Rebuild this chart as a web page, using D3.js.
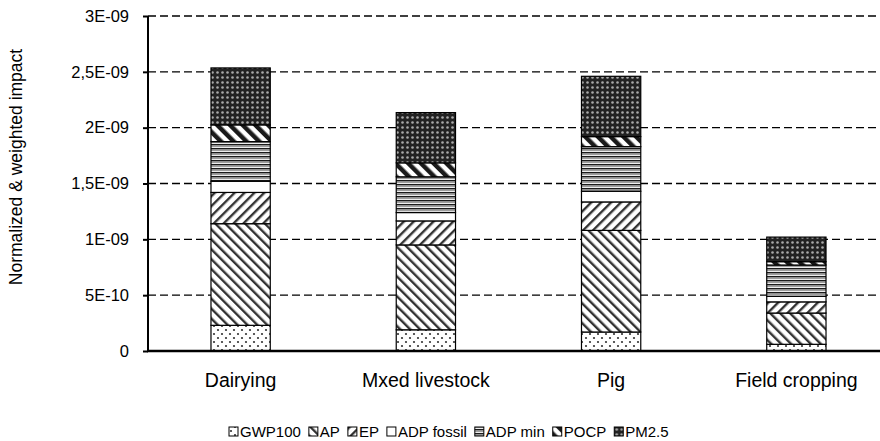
<!DOCTYPE html>
<html>
<head>
<meta charset="utf-8">
<script src="https://cdn.jsdelivr.net/npm/d3@7"></script>
<style>
  html, body { margin: 0; padding: 0; background: #fff; }
  svg { display: block; font-family: "Liberation Sans", Arial, sans-serif; }
</style>
</head>
<body>
<svg id="chart" width="880" height="441"></svg>
<script>
// ---- data ----
const categories = ["Dairying", "Mxed livestock", "Pig", "Field cropping"];
const seriesNames = ["GWP100", "AP", "EP", "ADP fossil", "ADP min", "POCP", "PM2.5"];
const GWP100    = [0.23e-9, 0.19e-9, 0.17e-9, 0.06e-9];
const AP        = [0.91e-9, 0.76e-9, 0.91e-9, 0.28e-9];
const EP        = [0.28e-9, 0.215e-9, 0.255e-9, 0.10e-9];
const ADPfossil = [0.10e-9, 0.075e-9, 0.095e-9, 0.05e-9];
const ADPmin    = [0.355e-9, 0.32e-9, 0.40e-9, 0.28e-9];
const POCP      = [0.15e-9, 0.125e-9, 0.09e-9, 0.03e-9];
const PM25      = [0.51e-9, 0.45e-9, 0.54e-9, 0.22e-9];
const tickValues = [0, 0.5e-9, 1e-9, 1.5e-9, 2e-9, 2.5e-9, 3e-9];
const tickLabels = ["0", "5E-10", "1E-09", "1,5E-09", "2E-09", "2,5E-09", "3E-09"];
const yTitle = "Normalized & weighted impact";

const seriesValues = [GWP100, AP, EP, ADPfossil, ADPmin, POCP, PM25];
const table = categories.map((c, i) => {
  const row = { category: c };
  seriesNames.forEach((s, j) => row[s] = seriesValues[j][i]);
  return row;
});

// ---- layout ----
const svg = d3.select("#chart");
const plot = { left: 148, right: 889, top: 16, bottom: 351 };

const x = d3.scaleBand().domain(categories).range([plot.left, plot.right]).paddingInner(0.68).paddingOuter(0.34);
const y = d3.scaleLinear().domain([0, 3e-9]).range([plot.bottom, plot.top]);

// ---- patterns ----
const defs = svg.append("defs");
const patIds = ["pGWP", "pAP", "pEP", "pFossil", "pMin", "pPOCP", "pPM"];

// GWP100: sparse staggered dots
let p = defs.append("pattern").attr("id", "pGWP").attr("patternUnits", "userSpaceOnUse").attr("width", 8).attr("height", 8);
p.append("rect").attr("width", 8).attr("height", 8).attr("fill", "#fff");
p.append("circle").attr("cx", 2).attr("cy", 2).attr("r", 1.1).attr("fill", "#333");
p.append("circle").attr("cx", 6).attr("cy", 6).attr("r", 1.1).attr("fill", "#333");

// AP: "\" diagonal lines
p = defs.append("pattern").attr("id", "pAP").attr("patternUnits", "userSpaceOnUse").attr("width", 7).attr("height", 7)
  .attr("patternTransform", "rotate(-45)");
p.append("rect").attr("width", 7).attr("height", 7).attr("fill", "#fff");
p.append("rect").attr("x", 0).attr("width", 2.4).attr("height", 7).attr("fill", "#333");

// EP: "/" diagonal lines
p = defs.append("pattern").attr("id", "pEP").attr("patternUnits", "userSpaceOnUse").attr("width", 7).attr("height", 7)
  .attr("patternTransform", "rotate(45)");
p.append("rect").attr("width", 7).attr("height", 7).attr("fill", "#fff");
p.append("rect").attr("x", 0).attr("width", 2.4).attr("height", 7).attr("fill", "#333");

// ADP fossil: white
p = defs.append("pattern").attr("id", "pFossil").attr("patternUnits", "userSpaceOnUse").attr("width", 4).attr("height", 4);
p.append("rect").attr("width", 4).attr("height", 4).attr("fill", "#fff");

// ADP min: horizontal stripes
p = defs.append("pattern").attr("id", "pMin").attr("patternUnits", "userSpaceOnUse").attr("width", 4).attr("height", 4);
p.append("rect").attr("width", 4).attr("height", 4).attr("fill", "#eee");
p.append("rect").attr("y", 0).attr("width", 4).attr("height", 1.4).attr("fill", "#1a1a1a");
p.append("rect").attr("y", 1.4).attr("width", 4).attr("height", 1.4).attr("fill", "#8a8a8a");

// POCP: thick wide "\" diagonals
p = defs.append("pattern").attr("id", "pPOCP").attr("patternUnits", "userSpaceOnUse").attr("width", 9).attr("height", 9)
  .attr("patternTransform", "rotate(-45)");
p.append("rect").attr("width", 9).attr("height", 9).attr("fill", "#fff");
p.append("rect").attr("x", 0).attr("width", 4.5).attr("height", 9).attr("fill", "#1a1a1a");

// PM2.5: dark with light dots
p = defs.append("pattern").attr("id", "pPM").attr("patternUnits", "userSpaceOnUse").attr("width", 5).attr("height", 5);
p.append("rect").attr("width", 5).attr("height", 5).attr("fill", "#222");
p.append("circle").attr("cx", 2.5).attr("cy", 2.5).attr("r", 1.3).attr("fill", "#aaa");

// ---- gridlines ----
svg.append("g")
  .selectAll("line")
  .data(tickValues.filter(v => v > 0))
  .join("line")
  .attr("x1", plot.left).attr("x2", plot.right)
  .attr("y1", d => y(d)).attr("y2", d => y(d))
  .attr("stroke", "#000").attr("stroke-width", 1.3)
  .attr("stroke-dasharray", "8,4");

// ---- bars ----
const stacked = d3.stack().keys(seriesNames)(table);
const layers = svg.append("g").selectAll("g")
  .data(stacked)
  .join("g")
  .attr("fill", (d, i) => `url(#${patIds[i]})`);
layers.selectAll("rect")
  .data(d => d)
  .join("rect")
  .attr("x", d => x(d.data.category))
  .attr("width", x.bandwidth())
  .attr("y", d => y(d[1]))
  .attr("height", d => y(d[0]) - y(d[1]))
  .attr("stroke", "#000")
  .attr("stroke-width", 1.2);

// ---- axes ----
const yAxis = svg.append("g")
  .attr("transform", `translate(${plot.left},0)`)
  .call(d3.axisLeft(y).tickValues(tickValues).tickFormat((d, i) => tickLabels[i]).tickSize(5).tickPadding(14));
yAxis.select(".domain").attr("stroke", "#000").attr("stroke-width", 2).attr("d", `M0,${plot.top}V${plot.bottom}`);
yAxis.selectAll(".tick line").attr("stroke", "#000").attr("stroke-width", 2);
yAxis.selectAll(".tick text").attr("font-size", 16.5).attr("fill", "#000").attr("font-family", "Liberation Sans, Arial, sans-serif");

const xAxis = svg.append("g")
  .attr("transform", `translate(0,${plot.bottom})`)
  .call(d3.axisBottom(x).tickSize(0).tickPadding(22));
xAxis.select(".domain").attr("stroke", "#000").attr("stroke-width", 2.5).attr("d", `M${plot.left - 1},0H880`);
xAxis.selectAll(".tick text").attr("font-size", 19.5).attr("fill", "#000").attr("font-family", "Liberation Sans, Arial, sans-serif");

// y title
svg.append("text")
  .attr("transform", `translate(22,167) rotate(-90)`)
  .attr("text-anchor", "middle")
  .attr("font-size", 17.5)
  .attr("fill", "#000")
  .text(yTitle);

// ---- legend ----
const legend = svg.append("g").attr("transform", "translate(229,437)");
let lx = 0;
seriesNames.forEach((name, i) => {
  const g = legend.append("g").attr("transform", `translate(${lx},0)`);
  g.append("rect").attr("x", 0).attr("y", -10).attr("width", 9).attr("height", 9)
    .attr("fill", `url(#${patIds[i]})`).attr("stroke", "#000").attr("stroke-width", 1);
  const t = g.append("text").attr("x", 11).attr("y", 0).attr("font-size", 15).attr("fill", "#000").text(name);
  lx += 11 + t.node().getComputedTextLength() + 8;
});
</script>
</body>
</html>
